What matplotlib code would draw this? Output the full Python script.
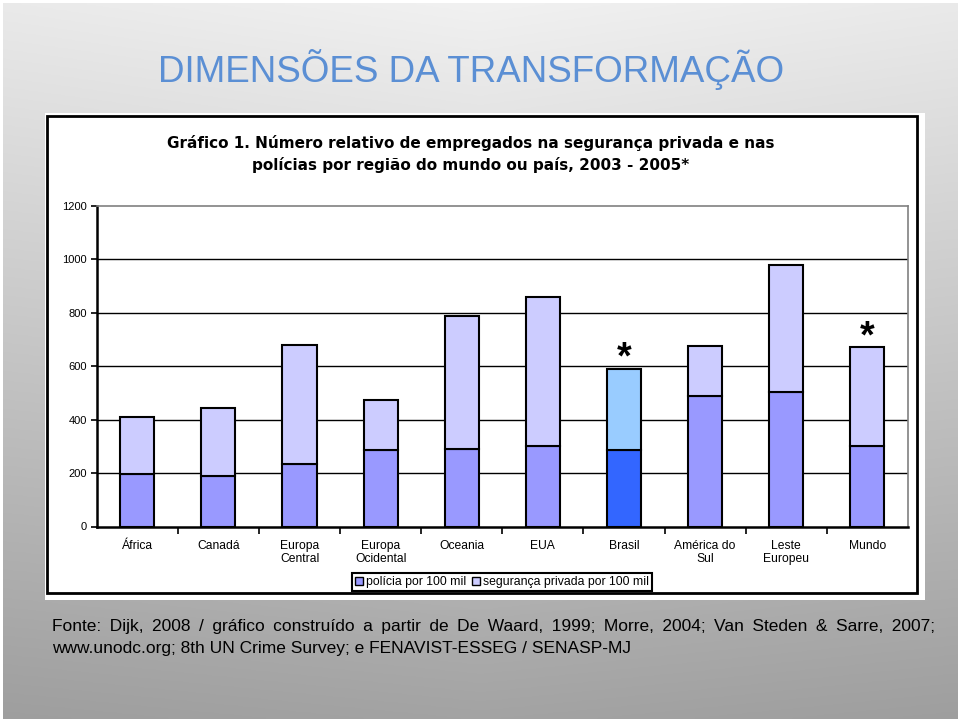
import itertools
import numpy as np
import matplotlib
matplotlib.use("Agg")
import matplotlib.pyplot as plt
from matplotlib.patches import Rectangle, Patch

plt.rcParams['font.family'] = ['Liberation Sans', 'DejaVu Sans']

# dados (por 100 mil habitantes)
regioes = ['África', 'Canadá', 'Europa\nCentral', 'Europa\nOcidental', 'Oceania',
           'EUA', 'Brasil', 'América do\nSul', 'Leste\nEuropeu', 'Mundo']
policia = [197, 190, 233, 285, 289, 302, 285, 490, 503, 302]
seguranca = [211, 255, 446, 187, 497, 558, 306, 187, 475, 368]
com_asterisco = ['Brasil', 'Mundo']
yticks = [0, 200, 400, 600, 800, 1000, 1200]

titulo = 'DIMENSÕES DA TRANSFORMAÇÃO'
titulo_grafico = ['Gráfico 1. Número relativo de empregados na segurança privada e nas',
                  'polícias por região do mundo ou país, 2003 - 2005*']
legenda = ['polícia por 100 mil', 'segurança privada por 100 mil']
fonte1 = ('Fonte: Dijk, 2008 / gráfico construído a partir de De Waard, 1999; '
          'Morre, 2004; Van Steden & Sarre, 2007;')
fonte2 = 'www.unodc.org; 8th UN Crime Survey; e FENAVIST-ESSEG / SENASP-MJ'

W, H = 960, 722

def fx(x):
    return x / W

def fy(y):
    return 1 - y / H


fig = plt.figure(figsize=(W / 100, H / 100), dpi=100, facecolor='white')
r = fig.canvas.get_renderer()

# fundo do slide em degrade cinza
bg = fig.add_axes([fx(3), fy(719), 954 / W, 716 / H])
v = np.linspace(0.945, 0.64, 300).reshape(-1, 1)
h = 1 - 0.03 * np.abs(np.linspace(-1, 1, 400)).reshape(1, -1)
img = np.clip(v * h, 0, 1)
bg.imshow(np.dstack([img, img, img]), aspect='auto', extent=[0, 1, 0, 1])
bg.axis('off')

# caixa branca do grafico
fig.patches.append(Rectangle((fx(45), fy(600)), 880 / W, 487 / H, transform=fig.transFigure,
                             facecolor='white', edgecolor='none', zorder=1))
fig.patches.append(Rectangle((fx(47), fy(593)), 870 / W, 477 / H, transform=fig.transFigure,
                             facecolor='none', edgecolor='black', lw=2, zorder=1.5))

fig.text(fx(471), fy(69), titulo, ha='center', va='center', fontsize=26.5, color='#5b8fd4')
fig.text(fx(471), fy(143), titulo_grafico[0], ha='center', va='center',
         fontsize=11, fontweight='bold', family='DejaVu Sans')
fig.text(fx(471), fy(165), titulo_grafico[1], ha='center', va='center',
         fontsize=11, fontweight='bold', family='DejaVu Sans')

ax = fig.add_axes([fx(96.7), fy(526.5), (908 - 96.7) / W, (526.5 - 205.7) / H])
ax.set_zorder(2)
ax.set_facecolor('white')

x = np.arange(len(regioes))
cor_pol = ['#3366ff' if r_ == 'Brasil' else '#9999ff' for r_ in regioes]
cor_seg = ['#99ccff' if r_ == 'Brasil' else '#ccccff' for r_ in regioes]
ax.bar(x, policia, width=0.42, color=cor_pol, edgecolor='black', lw=1.5, zorder=3)
ax.bar(x, seguranca, width=0.42, bottom=policia, color=cor_seg, edgecolor='black',
       lw=1.5, zorder=3)

for v_ in yticks[1:-1]:
    ax.axhline(v_, color='black', lw=1, zorder=1)

totais = np.array(policia) + np.array(seguranca)
for nome in com_asterisco:
    i = regioes.index(nome)
    ax.annotate('*', (i, totais[i]), xytext=(0, 0), textcoords='offset points',
                ha='center', va='baseline', fontsize=27, fontweight='bold')

ax.set_xlim(-0.5, len(regioes) - 0.5)
ax.set_ylim(0, 1200)
ax.set_yticks(yticks)
ax.set_xticks(x)
ax.set_xticklabels(regioes)
ax.set_xticks(x[:-1] + 0.5, minor=True)
ax.tick_params(axis='y', direction='out', length=4, width=1.2, labelsize=8, pad=3)
ax.tick_params(axis='x', which='major', length=0, labelsize=8.7, pad=9.5)
ax.tick_params(axis='x', which='minor', direction='out', length=5, width=1.2)
for s in ['left', 'bottom']:
    ax.spines[s].set_linewidth(1.8)
    ax.spines[s].set_color('black')
for s in ['top', 'right']:
    ax.spines[s].set_linewidth(1.2)
    ax.spines[s].set_color('#808080')

handles = [Patch(facecolor='#9999ff', edgecolor='black'),
           Patch(facecolor='#ccccff', edgecolor='black')]
leg = fig.legend(handles, legenda, loc='upper center', bbox_to_anchor=(fx(502), fy(573)),
                 ncol=2, fontsize=8.8, fancybox=False, edgecolor='black', framealpha=1,
                 handlelength=0.7, handleheight=0.7, handletextpad=0.25, columnspacing=0.4,
                 borderpad=0.25, borderaxespad=0)
leg.get_frame().set_linewidth(1.5)
leg.set_zorder(5)


# fonte: primeira linha justificada com espacos unicode de larguras diferentes
def largura(s, size=12.5):
    t = fig.text(0, 0, s, fontsize=size)
    w = t.get_window_extent(r).width
    t.remove()
    return w

palavras = fonte1.split()
larg_palavras = sum(largura(p) for p in palavras)
gap = ((935 - 52) - larg_palavras) / (len(palavras) - 1)
base = largura('aa')
espacos = {c: largura('a' + c + 'a') - base for c in [' ', '\u2002', '\u2009', '\u200a']}
combos = []
for n in itertools.product(range(3), range(4), range(4), range(4)):
    s = ' ' * n[0] + '\u2002' * n[1] + '\u2009' * n[2] + '\u200a' * n[3]
    if s:
        combos.append((s, sum(k * espacos[c] for k, c in zip(n, [' ', '\u2002', '\u2009', '\u200a']))))
linha = palavras[0]
acum = 0.0
for k, p in enumerate(palavras[1:], start=1):
    alvo = gap * k
    s, w = min(combos, key=lambda c: abs(acum + c[1] - alvo))
    acum += w
    linha += s + p
fig.text(fx(52), fy(631.5), linha, va='baseline', fontsize=12.5, zorder=5)
fig.text(fx(52), fy(652.5), fonte2, va='baseline', fontsize=12.5, zorder=5)

fig.savefig('out.png', dpi=100)
